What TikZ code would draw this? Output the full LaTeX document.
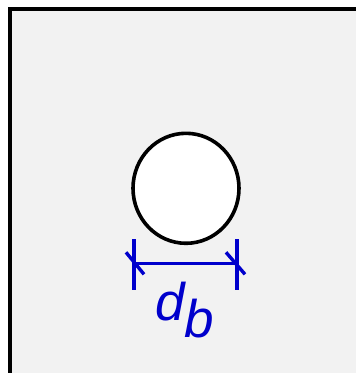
\documentclass[tikz,border=0pt]{standalone}
\usepackage{fontspec}
\setmainfont{Liberation Sans}
\definecolor{bg}{HTML}{F2F2F2}
\definecolor{dimblue}{HTML}{0000CC}
\tikzset{
  dimline/.style={draw=dimblue, line width=3.4pt},
  lbl/.style={inner sep=0pt, anchor=base west, text=dimblue, font=\fontsize{53}{60}\selectfont\itshape},
}
\begin{document}
\begin{tikzpicture}[x=1pt,y=-1pt]
\useasboundingbox (0,0) rectangle (356,373);
\clip (0,0) rectangle (356,373);
\fill[white] (0,0) rectangle (356,373);
\draw[fill=bg, line width=4pt] (9.5,8.7) rectangle (380,400);
\draw[fill=white, line width=3.6pt] (186,188.3) ellipse [x radius=53, y radius=55];
\coordinate (l) at (134,263.3);
\coordinate (r) at (237,263.3);
\draw[dimline] (l) -- (r);
\draw[dimline] ([yshift=-26.6]l) -- ([yshift=24.7]l);
\draw[dimline] ([yshift=-26.6]r) -- ([yshift=24.7]r);
\draw[dimline] ([shift={(-8,-11)}]l) -- ([shift={(10,11)}]l);
\draw[dimline] ([shift={(-11,-11)}]r) -- ([shift={(8,11)}]r);
\node[lbl] (d) at (155,320) {d};
\node[lbl] (b) at (184,337) {b};
\end{tikzpicture}
\end{document}
